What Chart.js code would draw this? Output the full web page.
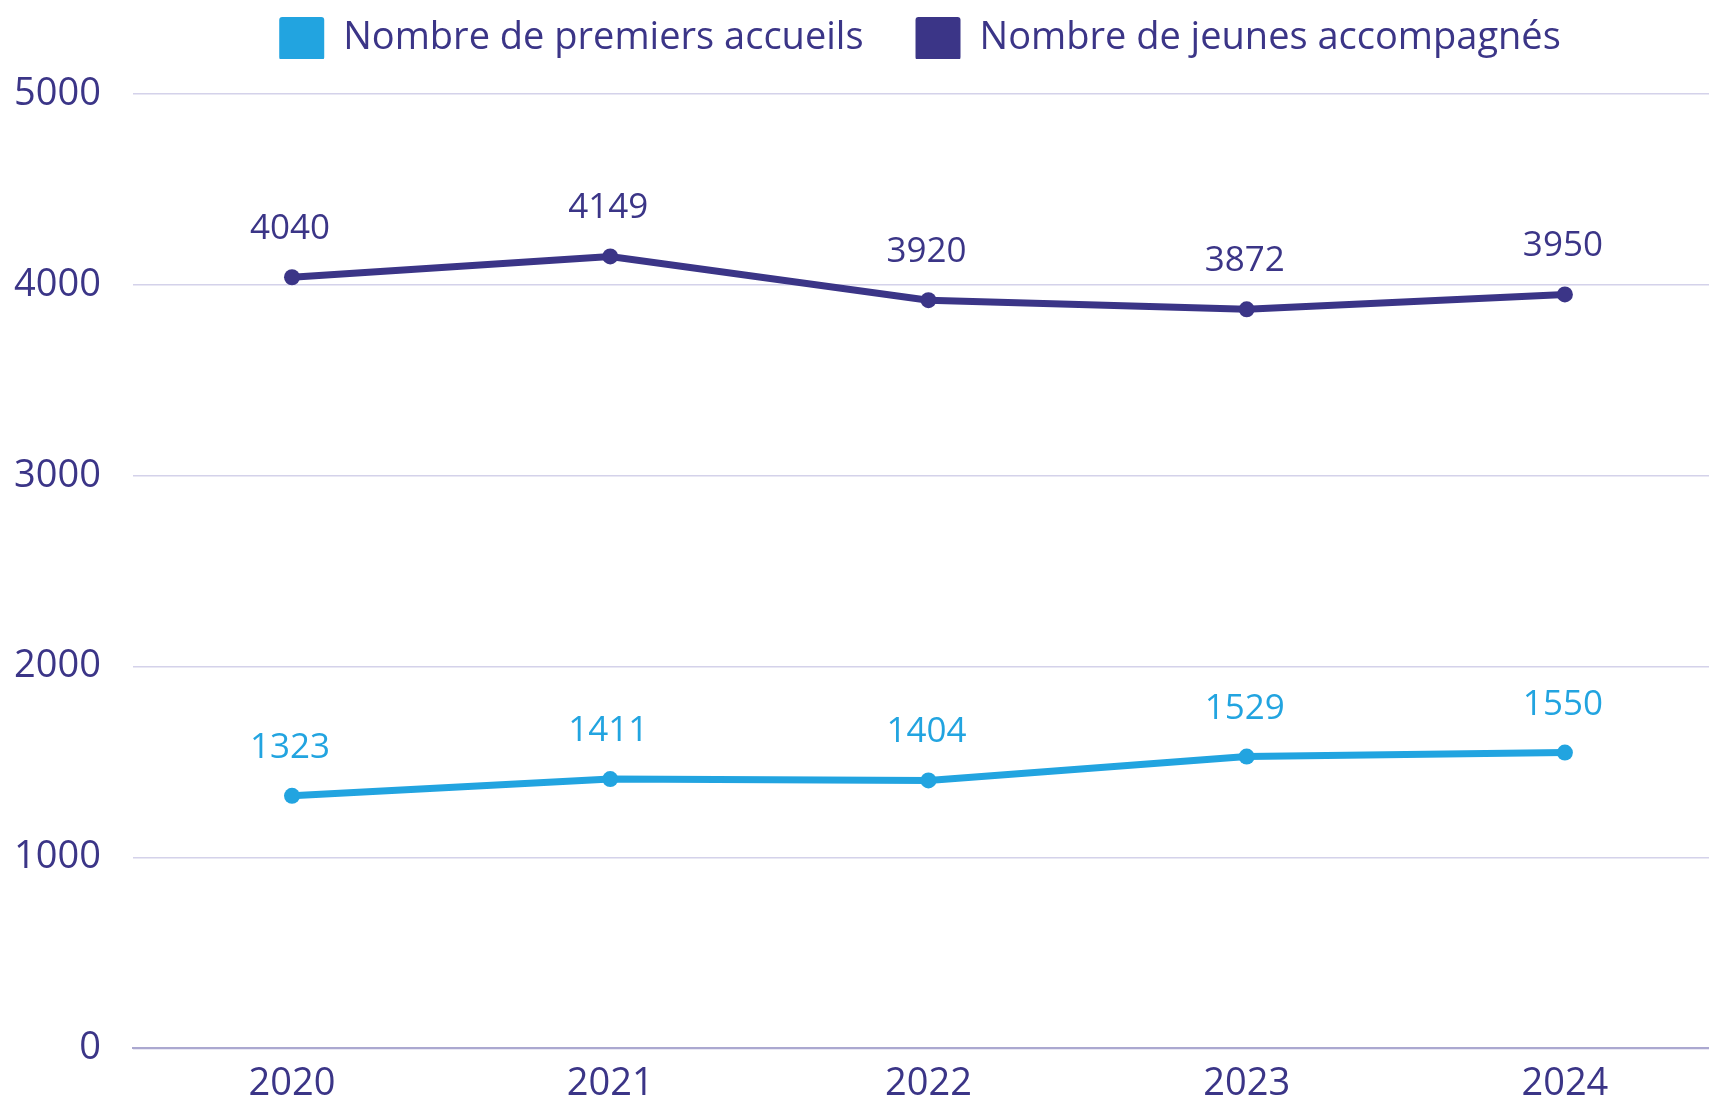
<!DOCTYPE html>
<html lang="fr">
<head>
<meta charset="utf-8">
<title>Premiers accueils et jeunes accompagnés</title>
<script src="https://cdn.jsdelivr.net/npm/chart.js@4.4.1/dist/chart.umd.min.js"></script>
<style>
    html, body { margin: 0; padding: 0; background: #fff; overflow: hidden; }
    .chart-wrap { position: relative; width: 1732px; height: 1104px; }
</style>
</head>
<body>
<div class="chart-wrap"><canvas id="accueilChart"></canvas></div>
<script>
/* DATA */
var years = ['2020', '2021', '2022', '2023', '2024'];
var premiersAccueils = [1323, 1411, 1404, 1529, 1550];
var jeunesAccompagnes = [4040, 4149, 3920, 3872, 3950];
var yTicks = [0, 1000, 2000, 3000, 4000, 5000];
var seriesNames = ['Nombre de premiers accueils', 'Nombre de jeunes accompagnés'];

var NAVY = '#3B3587';
var SKY = '#22A4E0';
var FONT = "'Open Sans', sans-serif";

/* VALUE LABELS ABOVE EACH POINT */
var valueLabels = {
    id: 'valueLabels',
    afterDatasetsDraw: function (chart) {
        var ctx = chart.ctx;
        ctx.save();
        ctx.font = '35px ' + FONT;
        ctx.textAlign = 'center';
        ctx.textBaseline = 'alphabetic';
        chart.data.datasets.forEach(function (ds, i) {
            var meta = chart.getDatasetMeta(i);
            ctx.fillStyle = ds.borderColor;
            meta.data.forEach(function (pt, j) {
                ctx.fillText(String(ds.data[j]), pt.x - 2, pt.y - 38);
            });
        });
        ctx.restore();
    }
};

/* LEGEND PLACEMENT - legend sits higher and a bit to the right of the default */
var legendPlacement = {
    id: 'legendPlacement',
    beforeInit: function (chart) {
        var legend = chart.legend;
        var fit = legend.fit;
        legend.fit = function () {
            fit.call(this);
            this.height -= 11;
        };
    },
    afterLayout: function (chart) {
        var legend = chart.legend;
        legend.left += 63;
        legend.right += 63;
        legend.top -= 35;
        legend.bottom -= 35;
    }
};

var ctx = document.getElementById('accueilChart');

new Chart(ctx, {
    type: 'line',
    data: {
        labels: years,
        datasets: [
            {
                label: seriesNames[0],
                data: premiersAccueils,
                borderColor: SKY,
                backgroundColor: SKY,
                borderWidth: 7,
                tension: 0,
                pointRadius: 8,
                pointBorderWidth: 0,
                pointBackgroundColor: SKY
            },
            {
                label: seriesNames[1],
                data: jeunesAccompagnes,
                borderColor: NAVY,
                backgroundColor: NAVY,
                borderWidth: 7,
                tension: 0,
                pointRadius: 8,
                pointBorderWidth: 0,
                pointBackgroundColor: NAVY
            }
        ]
    },
    options: {
        responsive: true,
        maintainAspectRatio: false,
        animation: false,
        layout: { padding: { left: -18, right: 0, top: 0, bottom: -16 } },
        plugins: {
            tooltip: { enabled: false },
            legend: {
                position: 'top',
                labels: {
                    color: NAVY,
                    font: { family: FONT, size: 38 },
                    boxWidth: 45,
                    boxHeight: 43,
                    padding: 52,
                    useBorderRadius: true,
                    borderRadius: 3,
                    generateLabels: function (chart) {
                        var items = Chart.defaults.plugins.legend.labels.generateLabels(chart);
                        items.forEach(function (it) { it.lineWidth = 0; });
                        return items;
                    }
                }
            }
        },
        scales: {
            x: {
                offset: true,
                grid: { display: false, drawTicks: false },
                border: { display: true, color: '#ABA8D0', width: 2 },
                ticks: { color: NAVY, font: { family: FONT, size: 38 }, padding: 13, maxRotation: 0 }
            },
            y: {
                min: 0,
                max: 5000,
                afterBuildTicks: function (axis) {
                    axis.ticks = yTicks.map(function (v) { return { value: v }; });
                },
                grid: { color: '#D4D2EA', lineWidth: 1.5, drawTicks: false },
                border: { display: false },
                ticks: {
                    color: NAVY,
                    font: { family: FONT, size: 38 },
                    padding: 32,
                    callback: function (value) { return String(value); }
                }
            }
        }
    },
    plugins: [valueLabels, legendPlacement]
});
</script>
</body>
</html>
